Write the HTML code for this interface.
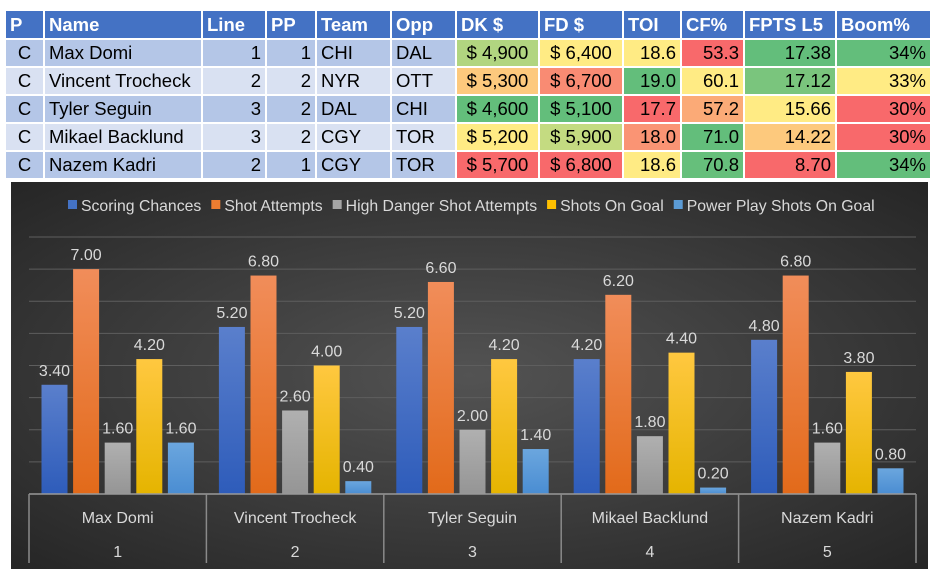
<!DOCTYPE html>
<html><head><meta charset="utf-8"><style>
body{margin:0;width:937px;height:587px;background:#fff;font-family:"Liberation Sans",sans-serif;overflow:hidden;position:relative}
table{position:absolute;left:4px;top:9px;border-collapse:collapse;table-layout:fixed;font-size:18.5px}
td,th{border:2px solid #fff;padding:0 4px;white-space:nowrap;overflow:hidden}
tr{height:28px}
tr.h{height:29px}
th{background:#4472C4;color:#fff;text-align:left;font-weight:bold}
tr.o td{background:#B4C6E7}tr.e td{background:#D9E1F2}
td.r{text-align:right}td.c{text-align:center}
#chart{position:absolute;left:11px;top:182px}
</style></head><body>
<table>
<colgroup><col style="width:39px"><col style="width:158px"><col style="width:64px"><col style="width:50px"><col style="width:75px"><col style="width:65px"><col style="width:83px"><col style="width:84px"><col style="width:58px"><col style="width:63px"><col style="width:92px"><col style="width:95px"></colgroup>
<tr class="h"><th>P</th><th>Name</th><th>Line</th><th>PP</th><th>Team</th><th>Opp</th><th>DK $</th><th>FD $</th><th>TOI</th><th>CF%</th><th>FPTS L5</th><th>Boom%</th></tr>
<tr class="o"><td class="c">C</td><td>Max Domi</td><td class="r">1</td><td class="r">1</td><td>CHI</td><td>DAL</td><td class="c" style="background:#B1D580">$ 4,900</td><td class="c" style="background:#FFEB84">$ 6,400</td><td class="r" style="background:#FFEB84">18.6</td><td class="r" style="background:#F8696B">53.3</td><td class="r" style="background:#63BE7B">17.38</td><td class="r" style="background:#63BE7B">34%</td></tr>
<tr class="e"><td class="c">C</td><td>Vincent Trocheck</td><td class="r">2</td><td class="r">2</td><td>NYR</td><td>OTT</td><td class="c" style="background:#FDC97D">$ 5,300</td><td class="c" style="background:#F98B73">$ 6,700</td><td class="r" style="background:#63BE7B">19.0</td><td class="r" style="background:#FFEB84">60.1</td><td class="r" style="background:#7AC57D">17.12</td><td class="r" style="background:#FFEB84">33%</td></tr>
<tr class="o"><td class="c">C</td><td>Tyler Seguin</td><td class="r">3</td><td class="r">2</td><td>DAL</td><td>CHI</td><td class="c" style="background:#63BE7B">$ 4,600</td><td class="c" style="background:#63BE7B">$ 5,100</td><td class="r" style="background:#F8696B">17.7</td><td class="r" style="background:#FBAA77">57.2</td><td class="r" style="background:#FFEB84">15.66</td><td class="r" style="background:#F8696B">30%</td></tr>
<tr class="e"><td class="c">C</td><td>Mikael Backlund</td><td class="r">3</td><td class="r">2</td><td>CGY</td><td>TOR</td><td class="c" style="background:#FFEB84">$ 5,200</td><td class="c" style="background:#C4DB81">$ 5,900</td><td class="r" style="background:#FA9474">18.0</td><td class="r" style="background:#63BE7B">71.0</td><td class="r" style="background:#FDC97D">14.22</td><td class="r" style="background:#F8696B">30%</td></tr>
<tr class="o"><td class="c">C</td><td>Nazem Kadri</td><td class="r">2</td><td class="r">1</td><td>CGY</td><td>TOR</td><td class="c" style="background:#F8696B">$ 5,700</td><td class="c" style="background:#F8696B">$ 6,800</td><td class="r" style="background:#FFEB84">18.6</td><td class="r" style="background:#66BF7B">70.8</td><td class="r" style="background:#F8696B">8.70</td><td class="r" style="background:#63BE7B">34%</td></tr>
</table>
<svg id="chart" width="917" height="387" font-family="Liberation Sans, sans-serif">
<defs>
<radialGradient id="bg" cx="50%" cy="50%" r="70%"><stop offset="0" stop-color="#535353"/><stop offset="1" stop-color="#262626"/></radialGradient>
<linearGradient id="g0" x1="0" y1="0" x2="0" y2="1"><stop offset="0" stop-color="#5A7FCC"/><stop offset="1" stop-color="#2E5CBA"/></linearGradient>
<linearGradient id="g1" x1="0" y1="0" x2="0" y2="1"><stop offset="0" stop-color="#F18D5A"/><stop offset="1" stop-color="#E26A1A"/></linearGradient>
<linearGradient id="g2" x1="0" y1="0" x2="0" y2="1"><stop offset="0" stop-color="#B0B0B0"/><stop offset="1" stop-color="#959595"/></linearGradient>
<linearGradient id="g3" x1="0" y1="0" x2="0" y2="1"><stop offset="0" stop-color="#FFC840"/><stop offset="1" stop-color="#E5B400"/></linearGradient>
<linearGradient id="g4" x1="0" y1="0" x2="0" y2="1"><stop offset="0" stop-color="#6BA6DE"/><stop offset="1" stop-color="#4A8DD2"/></linearGradient>
</defs>
<rect width="917" height="387" fill="url(#bg)"/>
<g id="grid"></g><g id="bars"></g><g id="axis"></g><g id="legend"></g>
</svg>
<script>
const categories=["Max Domi","Vincent Trocheck","Tyler Seguin","Mikael Backlund","Nazem Kadri"];
const subLabels=["1","2","3","4","5"];
const seriesNames=["Scoring Chances","Shot Attempts","High Danger Shot Attempts","Shots On Goal","Power Play Shots On Goal"];
const scoringChances=[3.4,5.2,5.2,4.2,4.8];
const shotAttempts=[7.0,6.8,6.6,6.2,6.8];
const highDanger=[1.6,2.6,2.0,1.8,1.6];
const shotsOnGoal=[4.2,4.0,4.2,4.4,3.8];
const ppShotsOnGoal=[1.6,0.4,1.4,0.2,0.8];
const yTicks=[0,1,2,3,4,5,6,7,8];
const series=[scoringChances,shotAttempts,highDanger,shotsOnGoal,ppShotsOnGoal];
const legendColors=["#4472C4","#ED7D31","#A5A5A5","#FFC000","#5B9BD5"];
const NS="http://www.w3.org/2000/svg";
const L=18,R=905,B=312,T=55,maxV=8;
const y=v=>B-(v/maxV)*(B-T);
const gw=(R-L)/categories.length;
const x=(ci,si)=>L+ci*gw+12.5+si*31.6;
function mk(t,a,p){const e=document.createElementNS(NS,t);for(const k in a)e.setAttribute(k,a[k]);p.appendChild(e);return e;}
const grid=document.getElementById('grid'),bars=document.getElementById('bars'),axis=document.getElementById('axis'),leg=document.getElementById('legend');
yTicks.forEach(v=>{if(v===0)return;const l=mk('line',{x1:L,x2:R,y1:y(v),y2:y(v),stroke:'#5e5e5e','stroke-width':1},grid);

});
series.forEach((s,si)=>s.forEach((v,ci)=>{
const r=mk('rect',{x:x(ci,si),y:y(v),width:26,height:B-y(v),fill:'url(#g'+si+')'},bars);


const t=mk('text',{x:x(ci,si)+13,y:y(v)-9,'text-anchor':'middle','font-size':16,fill:'#d9d9d9'},bars);t.textContent=v.toFixed(2);


}));
mk('line',{x1:L,x2:R,y1:B,y2:B,stroke:'#999','stroke-width':1.5},axis);
for(let i=0;i<=categories.length;i++){const l=mk('line',{x1:L+i*gw,x2:L+i*gw,y1:B,y2:381,stroke:'#8a8a8a','stroke-width':1.5},axis);

}
categories.forEach((c,i)=>{const t=mk('text',{x:L+(i+0.5)*gw,y:341,'text-anchor':'middle','font-size':16,fill:'#d9d9d9'},axis);t.textContent=c;


const n=mk('text',{x:L+(i+0.5)*gw,y:375,'text-anchor':'middle','font-size':16,fill:'#d9d9d9'},axis);n.textContent=subLabels[i];

});
let lx=57;
seriesNames.forEach((n,i)=>{const g=mk('g',{},leg);


mk('rect',{x:lx,y:18,width:9,height:9,fill:legendColors[i]},g);
const t=mk('text',{x:lx+13,y:29,'font-size':15.8,fill:'#d9d9d9'},g);t.textContent=n;
lx+=13+t.getComputedTextLength()+10;});
</script>
</body></html>
